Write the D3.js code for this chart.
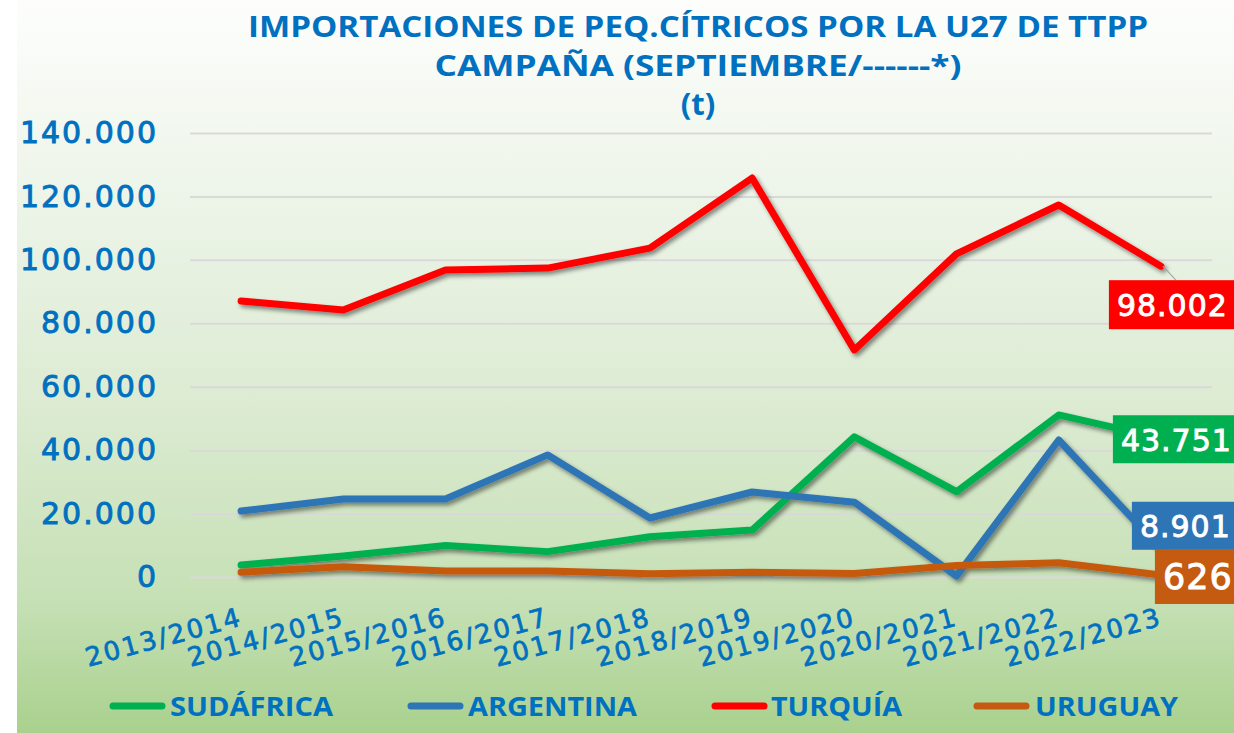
<!DOCTYPE html>
<html>
<head>
<meta charset="utf-8">
<script src="https://cdn.jsdelivr.net/npm/d3@7"></script>
<style>
  html, body { margin: 0; padding: 0; background: #fff; }
  svg { display: block; }
</style>
</head>
<body>
<div id="chart"></div>
<script>
// Data
const campaigns = ['2013/2014', '2014/2015', '2015/2016', '2016/2017', '2017/2018',
                   '2018/2019', '2019/2020', '2020/2021', '2021/2022', '2022/2023'];
const sudafrica = [3800, 6600, 9900, 8000, 12700, 14800, 44200, 26900, 51100, 43751];
const argentina = [20800, 24600, 24600, 38500, 18600, 26800, 23600, 300, 43200, 8901];
const turquia   = [87000, 84200, 96800, 97400, 103700, 125800, 71600, 101900, 117300, 98002];
const uruguay   = [1500, 3200, 1900, 1900, 1000, 1500, 1100, 3600, 4500, 626];
const yTicks = [0, 20000, 40000, 60000, 80000, 100000, 120000, 140000];
const titleLines = ['IMPORTACIONES DE PEQ.CÍTRICOS POR LA U27 DE TTPP',
                    'CAMPAÑA (SEPTIEMBRE/------*)', '(t)'];

const series = [
  { name: 'SUDÁFRICA', values: sudafrica, color: '#00B050' },
  { name: 'ARGENTINA', values: argentina, color: '#2E75B6' },
  { name: 'TURQUÍA',   values: turquia,   color: '#FF0000' },
  { name: 'URUGUAY',   values: uruguay,   color: '#C55A11' }
];

// Layout
const config = {
  width: 1234,
  height: 733,
  plot: { left: 190, right: 1212, top: 133, bottom: 577 },
  textColor: '#0070C0'
};

// label box offsets relative to the last point (left, top, text size)
const labelStyle = {
  'SUDÁFRICA': { dx: -48, dy: -23, h: 48, size: 30, base: 36 },
  'ARGENTINA': { dx: -29, dy: -47, h: 48, size: 30, base: 35 },
  'TURQUÍA':   { dx: -52, dy: 14,  h: 49, size: 30, base: 36, leader: true },
  'URUGUAY':   { dx: -6,  dy: -26, h: 55, size: 35, base: 40 }
};
const legendPos = [
  { line: 110, text: 170, len: 163 },
  { line: 408, text: 468, len: 169 },
  { line: 712, text: 771, len: 131 },
  { line: 974, text: 1035, len: 143 }
];

const locale = d3.formatLocale({ decimal: ',', thousands: '.', grouping: [3], currency: ['', '€'] });
const fmt = locale.format(',d');

const svg = d3.select('#chart').append('svg')
    .attr('width', config.width)
    .attr('height', config.height);

const defs = svg.append('defs');
const grad = defs.append('linearGradient')
    .attr('id', 'bg').attr('x1', 0).attr('y1', 0).attr('x2', 0).attr('y2', 1);
[['0%', '#fdfefc'], ['25%', '#eef5ea'], ['55%', '#dcebd2'], ['82%', '#c6e0b5'], ['100%', '#a9d18e']]
    .forEach(([o, c]) => grad.append('stop').attr('offset', o).attr('stop-color', c));

defs.append('filter').attr('id', 'shadow')
    .attr('x', '-5%').attr('y', '-20%').attr('width', '110%').attr('height', '140%')
  .append('feDropShadow')
    .attr('dx', 2.5).attr('dy', 3).attr('stdDeviation', 2)
    .attr('flood-color', '#000').attr('flood-opacity', 0.45);

svg.append('rect')
    .attr('x', 17).attr('y', 0)
    .attr('width', config.width - 17).attr('height', config.height)
    .attr('fill', 'url(#bg)');

// Title
svg.append('g').selectAll('text')
    .data(titleLines)
    .enter().append('text')
    .attr('x', 698)
    .attr('y', (d, i) => 37 + i * 39)
    .attr('text-anchor', 'middle')
    .attr('font-family', '"Open Sans", sans-serif')
    .attr('font-weight', 700)
    .attr('font-size', (d, i) => i === 2 ? 31 : 29)
    .attr('fill', config.textColor)
    .each(function(d, i) {
      if (i === 0) d3.select(this).attr('textLength', 900).attr('lengthAdjust', 'spacingAndGlyphs');
      if (i === 1) d3.select(this).attr('textLength', 527).attr('lengthAdjust', 'spacingAndGlyphs');
    })
    .text(d => d);

// Scales
const x = d3.scalePoint()
    .domain(campaigns)
    .range([config.plot.left, config.plot.right])
    .padding(0.5);

const y = d3.scaleLinear()
    .domain([0, 140000])
    .range([config.plot.bottom, config.plot.top]);

// Y axis with gridlines
const yAxis = svg.append('g')
    .attr('transform', `translate(${config.plot.left},0)`)
    .call(d3.axisLeft(y)
      .tickValues(yTicks)
      .tickFormat(fmt)
      .tickSize(-(config.plot.right - config.plot.left))
      .tickPadding(32));
yAxis.select('.domain').remove();
yAxis.selectAll('.tick line')
    .attr('stroke', '#d9d9d9')
    .attr('stroke-width', 2);
yAxis.selectAll('.tick text')
    .attr('fill', config.textColor)
    .attr('stroke', config.textColor)
    .attr('stroke-width', 0.9)
    .attr('font-family', '"DejaVu Sans", sans-serif')
    .attr('font-size', 30)
    .attr('letter-spacing', 2);

// X axis labels
const xAxis = svg.append('g')
    .attr('transform', `translate(0,${config.plot.bottom})`)
    .call(d3.axisBottom(x).tickSize(0));
xAxis.select('.domain').remove();
xAxis.selectAll('.tick text')
    .attr('x', 0).attr('y', 0).attr('dy', 0)
    .attr('text-anchor', 'end')
    .attr('transform', 'translate(2,48) rotate(-15)')
    .attr('fill', config.textColor)
    .attr('stroke', config.textColor)
    .attr('stroke-width', 0.7)
    .attr('font-family', '"DejaVu Sans", sans-serif')
    .attr('font-size', 26)
    .attr('letter-spacing', 2.2);

// Lines
const line = d3.line()
    .x((d, i) => x(campaigns[i]))
    .y(d => y(d));

svg.append('g')
    .attr('filter', 'url(#shadow)')
  .selectAll('path')
    .data(series)
    .enter().append('path')
    .attr('d', d => line(d.values))
    .attr('fill', 'none')
    .attr('stroke', d => d.color)
    .attr('stroke-width', 7)
    .attr('stroke-linejoin', 'round')
    .attr('stroke-linecap', 'round');

// End labels
const labels = svg.append('g');
series.forEach(s => {
  const st = labelStyle[s.name];
  const last = s.values[s.values.length - 1];
  const px = x(campaigns[campaigns.length - 1]);
  const py = y(last);
  const left = px + st.dx;
  const top = py + st.dy;
  if (st.leader) {
    labels.append('line')
        .attr('x1', px + 2).attr('y1', py)
        .attr('x2', px + 15).attr('y2', top)
        .attr('stroke', '#a6a6a6').attr('stroke-width', 1.2);
  }
  labels.append('rect')
      .attr('x', left).attr('y', top)
      .attr('width', config.width - left + 10).attr('height', st.h)
      .attr('fill', s.color);
  labels.append('text')
      .attr('x', left + 8).attr('y', top + st.base)
      .attr('fill', '#fff')
      .attr('stroke', '#fff')
      .attr('stroke-width', 0.9)
      .attr('font-family', '"DejaVu Sans", sans-serif')
      .attr('font-size', st.size)
      .attr('letter-spacing', 1)
      .text(fmt(last));
});

// Legend
const legend = svg.append('g');
series.forEach((s, i) => {
  const p = legendPos[i];
  legend.append('line')
      .attr('x1', p.line + 3).attr('x2', p.line + 52)
      .attr('y1', 706).attr('y2', 706)
      .attr('stroke', s.color)
      .attr('stroke-width', 7)
      .attr('stroke-linecap', 'round');
  legend.append('text')
      .attr('x', p.text).attr('y', 716)
      .attr('fill', config.textColor)
      .attr('font-family', '"Open Sans", sans-serif')
      .attr('font-weight', 700)
      .attr('font-size', 26)
      .attr('textLength', p.len)
      .attr('lengthAdjust', 'spacingAndGlyphs')
      .text(s.name);
});
</script>
</body>
</html>
